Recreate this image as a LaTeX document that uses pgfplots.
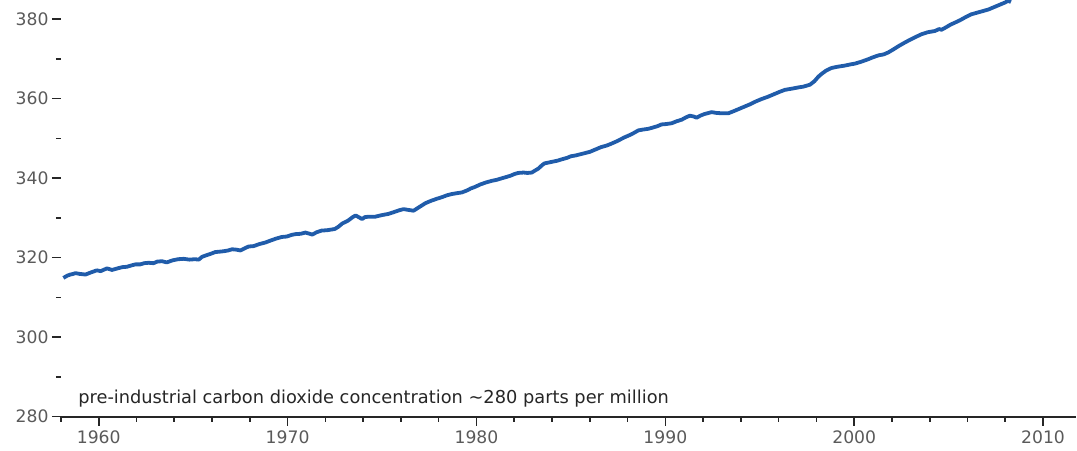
\documentclass[border=0pt]{standalone}
\usepackage{pgfplots}
\pgfplotsset{compat=1.18}
\usepackage{fontspec}
\setmainfont{DejaVu Sans}
\definecolor{co2blue}{RGB}{32,92,170}
\definecolor{ticktext}{RGB}{90,90,90}
\pgfplotstableread{
year ppm
1958.13 314.9
1958.35 315.5
1958.5 315.75
1958.65 315.9
1958.77 316.1
1959.0 315.9
1959.3 315.75
1959.6 316.3
1959.9 316.8
1960.1 316.6
1960.44 317.3
1960.7 316.9
1961.0 317.3
1961.24 317.6
1961.5 317.7
1961.7 318.0
1961.94 318.3
1962.2 318.3
1962.4 318.6
1962.65 318.7
1962.9 318.6
1963.1 319.0
1963.35 319.1
1963.6 318.8
1963.9 319.3
1964.2 319.6
1964.5 319.7
1964.8 319.5
1965.1 319.6
1965.3 319.5
1965.47 320.2
1965.7 320.6
1965.95 321.0
1966.17 321.4
1966.4 321.5
1966.6 321.6
1966.85 321.8
1967.06 322.1
1967.3 322.0
1967.5 321.8
1967.75 322.4
1967.94 322.8
1968.2 322.9
1968.5 323.4
1968.82 323.8
1969.1 324.3
1969.4 324.8
1969.7 325.2
1969.95 325.3
1970.2 325.7
1970.4 325.9
1970.7 326.0
1970.94 326.3
1971.1 326.1
1971.3 325.8
1971.55 326.4
1971.8 326.8
1972.1 326.9
1972.5 327.2
1972.7 327.8
1972.9 328.6
1973.2 329.3
1973.45 330.2
1973.6 330.6
1973.8 330.1
1973.94 329.7
1974.1 330.2
1974.3 330.3
1974.64 330.3
1975.0 330.7
1975.34 331.0
1975.6 331.4
1975.9 331.9
1976.14 332.2
1976.4 332.0
1976.67 331.8
1976.9 332.5
1977.1 333.1
1977.3 333.7
1977.6 334.3
1977.9 334.8
1978.17 335.2
1978.45 335.7
1978.7 336.0
1978.95 336.2
1979.23 336.4
1979.5 336.9
1979.7 337.4
1979.93 337.8
1980.2 338.4
1980.5 338.9
1980.8 339.3
1981.1 339.6
1981.3 339.9
1981.52 340.2
1981.8 340.6
1982.0 341.0
1982.2 341.3
1982.5 341.4
1982.7 341.3
1982.93 341.4
1983.1 341.9
1983.28 342.4
1983.46 343.2
1983.6 343.7
1983.8 343.9
1984.1 344.2
1984.3 344.4
1984.5 344.7
1984.8 345.1
1985.0 345.5
1985.25 345.7
1985.5 346.0
1985.75 346.3
1986.0 346.6
1986.3 347.2
1986.6 347.8
1986.9 348.2
1987.16 348.7
1987.4 349.2
1987.65 349.8
1987.86 350.3
1988.1 350.8
1988.35 351.4
1988.57 352.0
1988.8 352.2
1989.1 352.4
1989.4 352.8
1989.6 353.1
1989.8 353.5
1990.05 353.6
1990.34 353.8
1990.6 354.3
1990.87 354.7
1991.1 355.3
1991.3 355.7
1991.5 355.5
1991.66 355.2
1991.85 355.7
1992.06 356.1
1992.3 356.4
1992.45 356.6
1992.7 356.4
1993.0 356.3
1993.33 356.3
1993.6 356.8
1993.9 357.4
1994.2 358.0
1994.5 358.6
1994.8 359.3
1995.1 359.9
1995.4 360.4
1995.6 360.8
1995.8 361.2
1996.05 361.7
1996.33 362.2
1996.7 362.5
1997.03 362.8
1997.3 363.0
1997.66 363.5
1997.9 364.4
1998.1 365.5
1998.27 366.2
1998.5 367.0
1998.8 367.7
1999.1 368.0
1999.5 368.3
1999.8 368.6
2000.04 368.8
2000.39 369.3
2000.74 369.9
2001.0 370.4
2001.3 370.9
2001.55 371.1
2001.8 371.6
2002.05 372.3
2002.35 373.2
2002.68 374.1
2003.0 374.9
2003.3 375.6
2003.57 376.2
2003.9 376.7
2004.27 377.0
2004.5 377.5
2004.62 377.3
2004.85 377.9
2005.1 378.6
2005.33 379.1
2005.6 379.7
2005.9 380.5
2006.2 381.2
2006.5 381.6
2006.8 382.0
2007.1 382.4
2007.4 383.0
2007.6 383.4
2007.8 383.8
2008.0 384.2
2008.15 384.6
2008.3 384.3
}\co

\begin{document}
\begin{tikzpicture}
\begin{axis}[
  name=main,
  scale only axis,
  width=508pt, height=208.5pt,
  xmin=1958, xmax=2011.75,
  ymin=280, ymax=384.8,
  axis x line*=bottom,
  axis y line*=left,
  x axis line style={-, line width=0.9pt, black!85},
  y axis line style={draw=none},
  xtick={1960,1970,1980,1990,2000,2010},
  minor xtick={1958,1962,1964,1966,1968,1972,1974,1976,1978,1982,1984,1986,1988,1992,1994,1996,1998,2002,2004,2006,2008},
  ytick={280,300,320,340,360,380},
  minor ytick={290,310,330,350,370},
  ticklabel style={font=\fontsize{8.6}{10}\selectfont, text=ticktext},
  x tick label style={/pgf/number format/1000 sep={}, yshift=1pt},
  y tick label style={xshift=1.8pt},
  /pgf/number format/assume math mode=true,
  tick align=outside,
  major tick length=4.5pt,
  minor tick length=2.5pt,
  every tick/.style={black!85, line width=0.8pt},
  clip=true,
]
\addplot[co2blue, line width=1.9pt, line join=round] table[x=year, y=ppm] {\co};
\node[anchor=base west, font=\fontsize{8.9}{11}\selectfont, text=black!85, inner sep=0pt] at (axis cs:1958.9,283.3) {pre-industrial carbon dioxide concentration \textasciitilde280 parts per million};
\end{axis}
\path (main.south west) ++(-30.5pt,-16.5pt) rectangle (main.north east);
\end{tikzpicture}
\end{document}
